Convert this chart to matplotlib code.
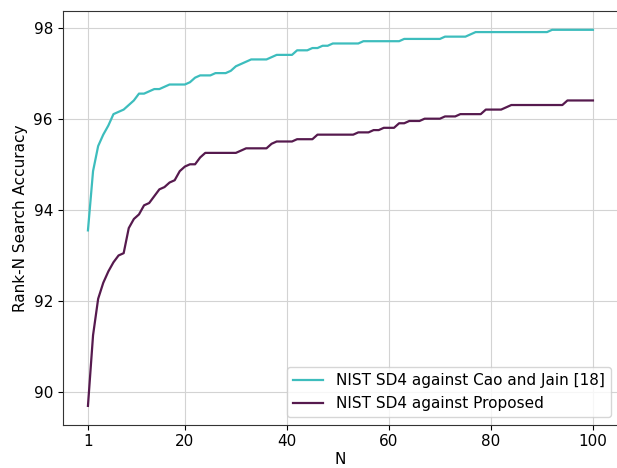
import matplotlib
matplotlib.use("Agg")
import matplotlib.pyplot as plt
import numpy as np

ranks = list(range(1, 101))

cao_jain = (
    [93.55, 94.85, 95.40, 95.65, 95.85, 96.10, 96.15, 96.20, 96.30, 96.40,
     96.55, 96.55, 96.60, 96.65, 96.65, 96.70, 96.75, 96.75, 96.75, 96.75,
     96.80, 96.90, 96.95, 96.95, 96.95, 97.00, 97.00, 97.00, 97.05, 97.15,
     97.20, 97.25, 97.30, 97.30, 97.30, 97.30, 97.35, 97.40, 97.40, 97.40,
     97.40, 97.50, 97.50, 97.50, 97.55, 97.55, 97.60, 97.60, 97.65]
    + [97.65] * 5      # 50-54
    + [97.70] * 8      # 55-62
    + [97.75] * 8      # 63-70
    + [97.80] * 5      # 71-75
    + [97.85]          # 76
    + [97.90] * 15     # 77-91
    + [97.95] * 9      # 92-100
)

proposed = (
    [89.70, 91.25, 92.05, 92.40, 92.65, 92.85, 93.00, 93.05, 93.60, 93.80,
     93.90, 94.10, 94.15, 94.30, 94.45, 94.50, 94.60, 94.65, 94.85, 94.95,
     95.00, 95.00, 95.15, 95.25]
    + [95.25] * 6      # 25-30
    + [95.30]          # 31
    + [95.35] * 5      # 32-36
    + [95.45]          # 37
    + [95.50] * 4      # 38-41
    + [95.55] * 4      # 42-45
    + [95.65] * 8      # 46-53
    + [95.70] * 3      # 54-56
    + [95.75] * 2      # 57-58
    + [95.80] * 3      # 59-61
    + [95.90] * 2      # 62-63
    + [95.95] * 3      # 64-66
    + [96.00] * 4      # 67-70
    + [96.05] * 3      # 71-73
    + [96.10] * 5      # 74-78
    + [96.20] * 4      # 79-82
    + [96.25]          # 83
    + [96.30] * 11     # 84-94
    + [96.40] * 6      # 95-100
)

x_ticks = [1, 20, 40, 60, 80, 100]
labels = ["NIST SD4 against Cao and Jain [18]", "NIST SD4 against Proposed"]

plt.rcParams["font.size"] = 11

W, H = 617, 468
fig = plt.figure(figsize=(W / 100, H / 100), dpi=100)
ax = fig.add_axes([62.7 / W, 1 - 424.7 / H, 555.5 / W, (424.7 - 11) / H])
ax.plot(ranks, cao_jain, color="#3dbdbd", linewidth=1.6, label=labels[0])
ax.plot(ranks, proposed, color="#561a4e", linewidth=1.6, label=labels[1])
ax.set_xticks(x_ticks)
ax.grid(True, color="#d3d3d3", linewidth=0.8)
ax.set_axisbelow(True)
for s in ax.spines.values():
    s.set_color("#333333")
ax.set_xlabel("N", labelpad=2)
ax.set_ylabel("Rank-N Search Accuracy")
ax.legend(loc="lower right")
fig.savefig("out.png", dpi=100)
